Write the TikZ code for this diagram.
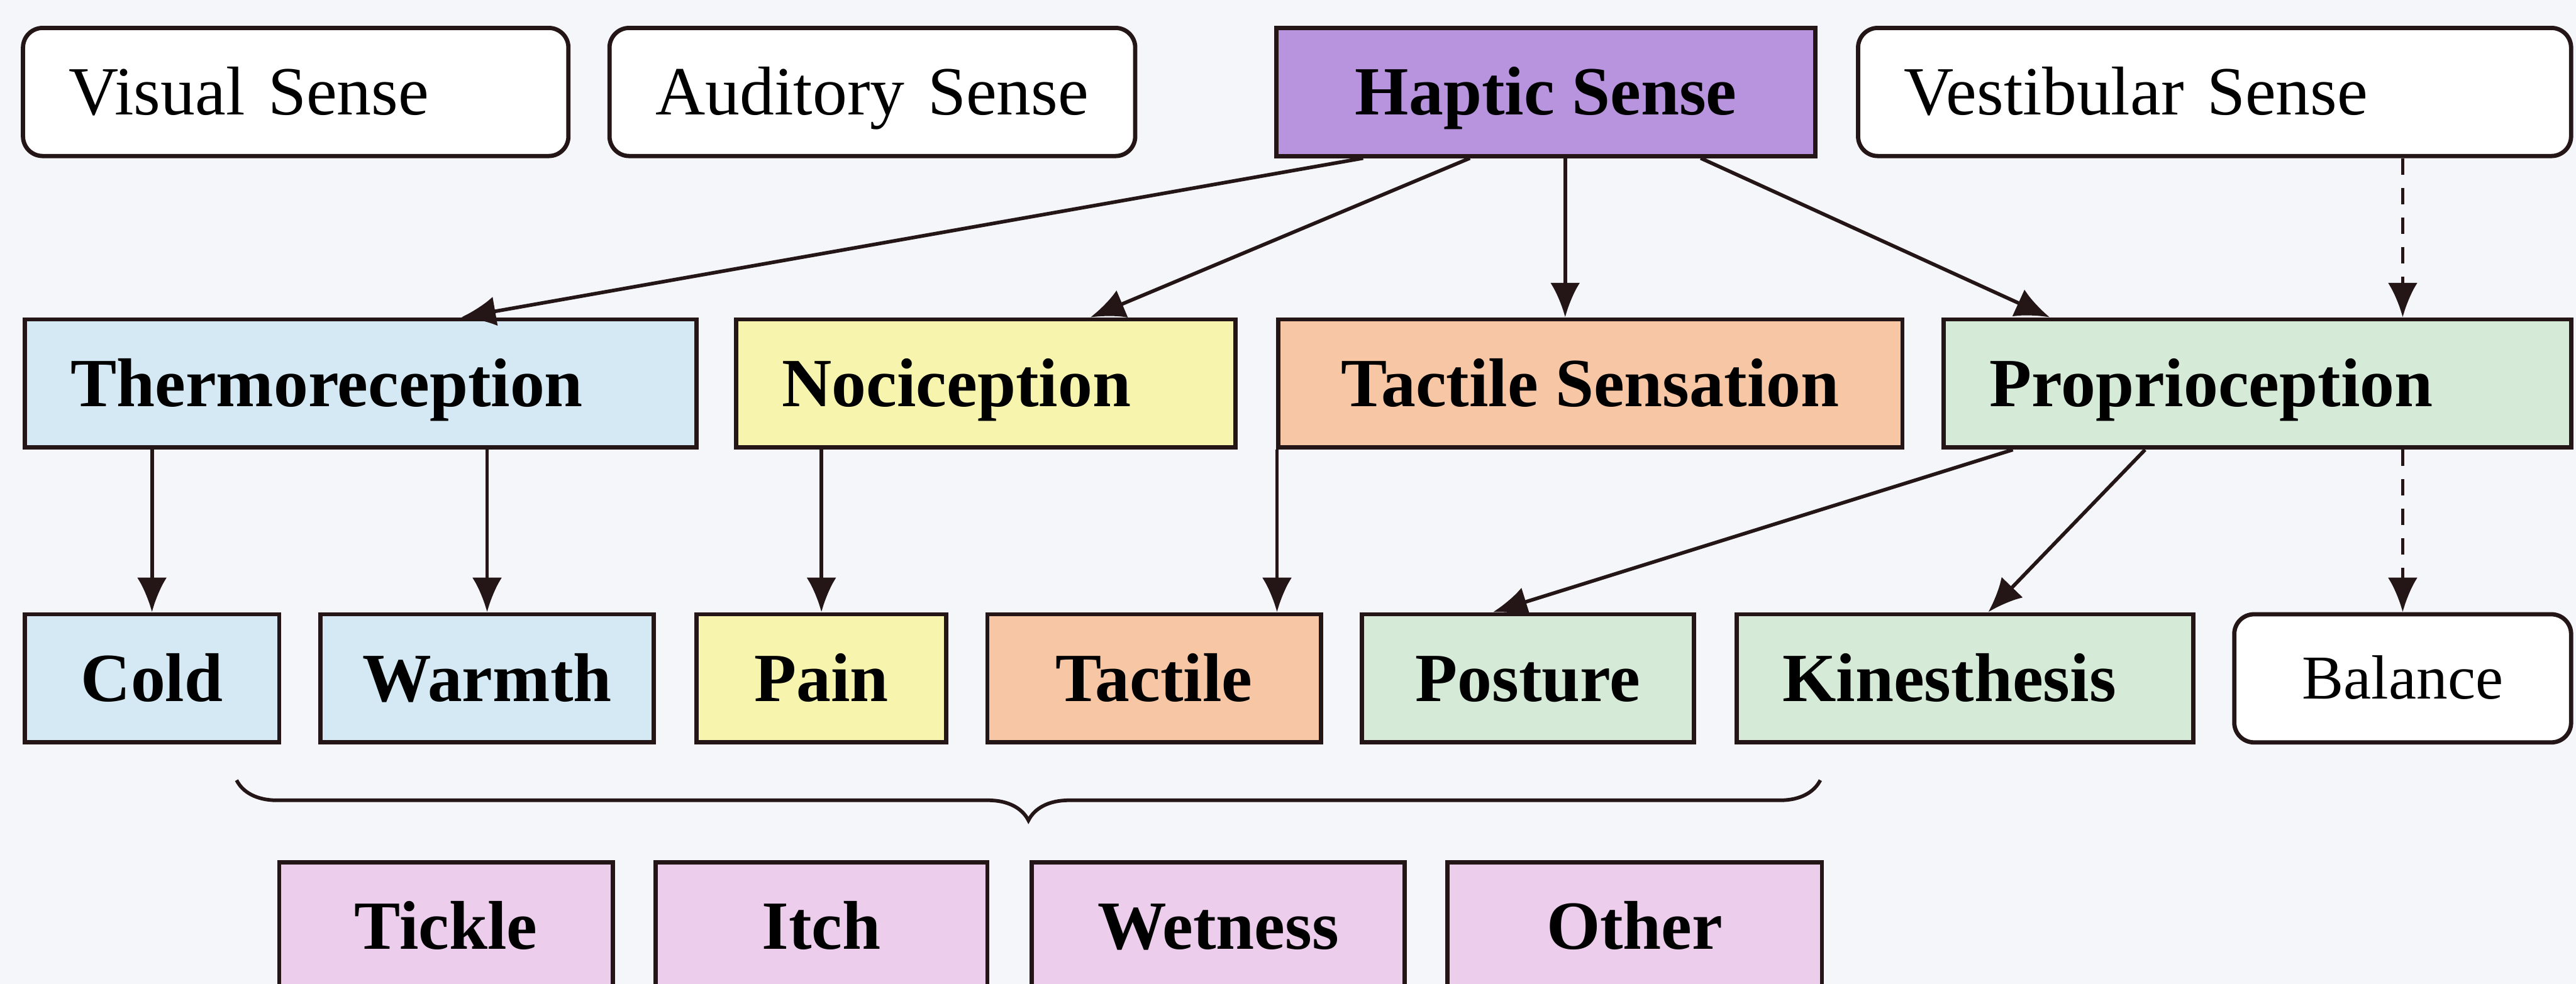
\documentclass[tikz,border=0pt]{standalone}
\usepackage{fontspec}
\setmainfont{Liberation Serif}
\usetikzlibrary{arrows.meta,calc,decorations.pathreplacing}
\definecolor{bgc}{HTML}{F4F6FA}
\definecolor{edgec}{HTML}{241617}
\definecolor{hapc}{HTML}{B894DE}
\definecolor{bluec}{HTML}{D4E9F3}
\definecolor{yelc}{HTML}{F7F5AD}
\definecolor{peachc}{HTML}{F7C6A5}
\definecolor{greenc}{HTML}{D5EBD8}
\definecolor{pinkc}{HTML}{ECCDEC}
\tikzset{
  box/.style={draw=edgec, line width=1.3pt, minimum height=39pt, inner sep=0pt,
    font=\fontsize{21}{25}\selectfont, text height=13.9pt, text depth=0pt},
  bbox/.style={box, font=\fontsize{21}{25}\selectfont\bfseries},
  wbox/.style={box, fill=white, rounded corners=6pt},
  lefttext/.style={align=left, inner xsep=14pt},
  conn/.style={draw=edgec, line width=1.1pt, -{Latex[length=10.5pt,width=9pt]}},
  dconn/.style={conn, dash pattern=on 5pt off 4pt},
}
\begin{document}
\begin{tikzpicture}[x=0.5pt,y=-0.5pt]
\useasboundingbox (0,0) rectangle (1568,599);
\clip (0,0) rectangle (1568,599);
\fill[bgc] (0,0) rectangle (1568,599);

% top row
\node[wbox, lefttext, text width=138pt, minimum width=166pt] (vis) at (180,56) {Visual Sense};
\node[wbox, lefttext, text width=132pt, minimum width=160pt] (aud) at (531,56) {Auditory Sense};
\node[bbox, fill=hapc, minimum width=164pt] (hap) at (941,56) {Haptic Sense};
\node[wbox, lefttext, text width=189pt, minimum width=217pt] (ves) at (1348,56) {Vestibular Sense};

% first row
\node[bbox, fill=bluec, lefttext, text width=176.5pt, minimum width=204.5pt] (therm) at (219.5,233.5) {Thermoreception};
\node[bbox, fill=yelc, lefttext, text width=124pt, minimum width=152pt] (noci) at (600,233.5) {Nociception};
\node[bbox, fill=peachc, minimum width=190pt] (tacs) at (968,233.5) {Tactile Sensation};
\node[bbox, fill=greenc, lefttext, text width=163pt, minimum width=191pt] (prop) at (1374,233.5) {Proprioception};

% second row
\node[bbox, fill=bluec, minimum width=77.5pt] (cold) at (92.5,413) {Cold};
\node[bbox, fill=bluec, minimum width=101.5pt] (warm) at (296.5,413) {Warmth};
\node[bbox, fill=yelc, minimum width=76pt] (pain) at (500,413) {Pain};
\node[bbox, fill=peachc, minimum width=101.5pt] (tact) at (702.5,413) {Tactile};
\node[bbox, fill=greenc, minimum width=101pt] (post) at (930,413) {Posture};
\node[bbox, fill=greenc, lefttext, text width=111pt, minimum width=139pt] (kin) at (1196,413) {Kinesthesis};
\node[wbox, font=\fontsize{19}{23}\selectfont, text height=12.6pt, minimum width=102.5pt] (bal) at (1462.5,413) {Balance};

% third row
\node[bbox, fill=pinkc, minimum width=101.5pt] (tick) at (271.5,564) {Tickle};
\node[bbox, fill=pinkc, minimum width=101pt] (itch) at (500,564) {Itch};
\node[bbox, fill=pinkc, minimum width=113.5pt] (wet) at (741.5,564) {Wetness};
\node[bbox, fill=pinkc, minimum width=114pt] (oth) at (995,564) {Other};

% brace
\coordinate (brR) at (1108,475);
\coordinate (brL) at (144,475);
\draw[edgec, line width=1.1pt, decorate, decoration={brace, amplitude=12.25pt}] (brR) -- (brL);

% connectors from haptic
\draw[conn] ([xshift=27pt]hap.south west) -- ([xshift=133.5pt]therm.north west);
\draw[conn] ([xshift=59.5pt]hap.south west) -- ([xshift=108.5pt]noci.north west);
\draw[conn] ([xshift=88.5pt]hap.south west) -- ([xshift=88.5pt]hap.south west |- tacs.north);
\draw[conn] ([xshift=129.75pt]hap.south west) -- ([xshift=33pt]prop.north west);
\draw[dconn] (ves.south -| bal.north) -- (prop.north -| bal.north);

% second level
\draw[conn] (therm.south -| cold.north) -- (cold.north);
\draw[conn] (therm.south -| warm.north) -- (warm.north);
\draw[conn] (noci.south -| pain.north) -- (pain.north);
\draw[conn] ([xshift=0.3pt]tacs.south west) -- ([xshift=0.3pt]tacs.south west |- tact.north);
\draw[conn] ([xshift=21.75pt]prop.south west) -- ([xshift=40.5pt]post.north west);
\draw[conn] ([xshift=62pt]prop.south west) -- ([xshift=77.25pt]kin.north west);
\draw[dconn] (prop.south -| bal.north) -- (bal.north);
\end{tikzpicture}
\end{document}
